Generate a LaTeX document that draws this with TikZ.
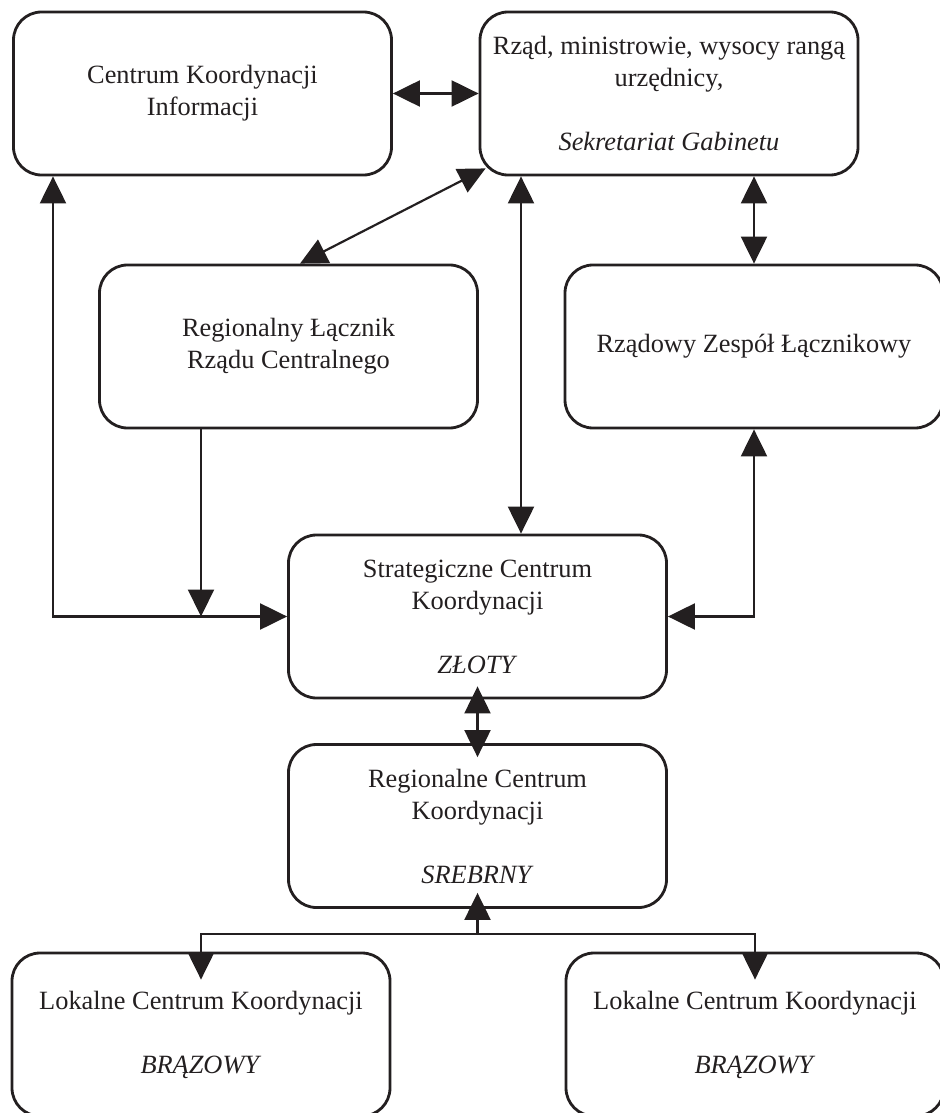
\documentclass[tikz,border=0pt]{standalone}
\usepackage{fontspec}
\setmainfont{Liberation Serif}
\usetikzlibrary{arrows.meta}
\definecolor{ink}{RGB}{35,31,32}

\begin{document}
\begin{tikzpicture}[
    box/.style={rectangle, draw=ink, line width=1.6pt, rounded corners=0.56cm, minimum width=7.56cm, minimum height=3.26cm, align=center, font=\fontsize{15}{18.2}\selectfont, text=ink},
    arrow/.style={->, draw=ink, line width=1.25pt},
    dbl/.style={<->, draw=ink, line width=1.25pt},
    >={Triangle[length=0.54cm, width=0.52cm]}
]
    \useasboundingbox (0,0) rectangle (18.8,-22.26);

    % Poziom rządowy
    \node[box] (info) at (4.05,-1.87) {Centrum Koordynacji\\Informacji};
    \node[box] (gov) at (13.38,-1.87) {Rząd, ministrowie, wysocy rangą\\urzędnicy,\\[18.2pt]\textit{Sekretariat Gabinetu}};

    \draw[dbl] (info) -- (gov);

    % Łącznicy
    \node[box] (liaison) at (5.77,-6.93) {Regionalny Łącznik\\Rządu Centralnego};
    \node[box] (team) at (15.08,-6.93) {Rządowy Zespół Łącznikowy};

    \draw[dbl] ([xshift=0.23cm]liaison.north) -- ([shift={(0.14,0.16)}]gov.south west);
    \draw[dbl] (gov.south -| team.north) -- (team.north);

    % Złoty
    \node[box] (scc) at (9.55,-12.33) {Strategiczne Centrum\\Koordynacji\\[18.2pt]\textit{ZŁOTY}};

    \draw[dbl] ([xshift=-2.96cm]gov.south) -- ([xshift=-2.96cm]gov.south |- scc.north);
    \draw[dbl] ([xshift=-2.99cm]info.south) |- (scc.west);
    \draw[arrow] ([xshift=-1.75cm]liaison.south) -- ([xshift=-1.75cm]liaison.south |- scc.west);
    \draw[dbl] (team.south) |- (scc.east);

    % Srebrny
    \node[box] (rcc) at (9.55,-16.52) {Regionalne Centrum\\Koordynacji\\[18.2pt]\textit{SREBRNY}};

    \draw[dbl, shorten <=-0.26cm, shorten >=-0.28cm] (scc) -- (rcc);

    % Brązowy
    \node[box] (local1) at (4.02,-20.69) {Lokalne Centrum Koordynacji\\[18.2pt]\textit{BRĄZOWY}};
    \node[box] (local2) at (15.1,-20.69) {Lokalne Centrum Koordynacji\\[18.2pt]\textit{BRĄZOWY}};

    \coordinate (fork) at ([yshift=-0.5cm]rcc.south);
    \draw[arrow, shorten >=-0.32cm] (fork) -- (rcc.south);
    \draw[arrow, shorten >=-0.56cm] (fork) -| (local1.north);
    \draw[arrow, shorten >=-0.56cm] (fork) -| (local2.north);
\end{tikzpicture}
\end{document}
